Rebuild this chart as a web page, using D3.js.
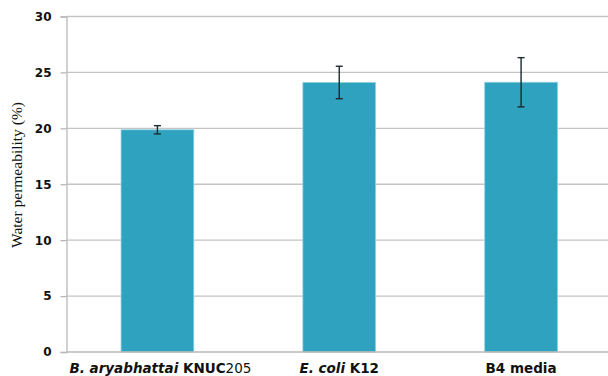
<!DOCTYPE html>
<html>
<head>
<meta charset="utf-8">
<script src="https://cdn.jsdelivr.net/npm/d3@7"></script>
<style>
  html, body { margin: 0; padding: 0; background: #fff; }
  svg { display: block; }
</style>
</head>
<body>
<svg id="chart" width="608" height="376"></svg>
<script>
// Water permeability by culture condition, mean ± error
const categories = ["B. aryabhattai KNUC205", "E. coli K12", "B4 media"];
const labelParts = [
  [{ t: "B. aryabhattai ", italic: true, bold: true }, { t: "KNUC", bold: true }, { t: "205", bold: false }],
  [{ t: "E. coli ", italic: true, bold: true }, { t: "K12", bold: true }],
  [{ t: "B4 media", bold: true }]
];
const means = [19.87, 24.1, 24.12];
const errors = [0.37, 1.45, 2.2];
const yTicks = [0, 5, 10, 15, 20, 25, 30];
const yTitle = "Water permeability (%)";

const svg = d3.select("#chart");
const margin = { left: 66.5, right: -4, top: 16.5, bottom: 24 };
const W = 608, H = 376;

const x = d3.scaleBand()
  .domain(categories)
  .range([margin.left, W - margin.right])
  .paddingInner(0.6)
  .paddingOuter(0.3);

const y = d3.scaleLinear().domain([0, 30]).range([H - margin.bottom, margin.top]);

// horizontal gridlines
svg.append("g")
  .selectAll("line")
  .data(yTicks.filter(d => d > 0))
  .join("line")
  .attr("x1", margin.left)
  .attr("x2", W)
  .attr("y1", d => y(d))
  .attr("y2", d => y(d))
  .attr("stroke", "#c4c4c4")
  .attr("stroke-width", 1.3);

// y axis
const yAxis = d3.axisLeft(y).tickValues(yTicks).tickSize(6).tickPadding(9);
const gy = svg.append("g").attr("transform", `translate(${margin.left},0)`).call(yAxis);
gy.select(".domain").attr("stroke", "#b8b8b8").attr("stroke-width", 1.3);
gy.selectAll(".tick line").attr("stroke", "#b8b8b8").attr("stroke-width", 1.3);
gy.selectAll(".tick text")
  .attr("fill", "#111")
  .style("font-family", "'DejaVu Sans', sans-serif")
  .style("font-weight", "bold")
  .style("font-size", "12px");

// bars
svg.append("g")
  .selectAll("rect")
  .data(categories)
  .join("rect")
  .attr("x", d => x(d))
  .attr("y", (d, i) => y(means[i]))
  .attr("width", x.bandwidth())
  .attr("height", (d, i) => y(0) - y(means[i]))
  .attr("fill", "#2ea2be")
  .attr("stroke", "#8fd0e0")
  .attr("stroke-width", 0.8);

// x axis baseline
svg.append("line")
  .attr("x1", margin.left)
  .attr("x2", W)
  .attr("y1", y(0))
  .attr("y2", y(0))
  .attr("stroke", "#b8b8b8")
  .attr("stroke-width", 1.3);

// error bars
const eb = svg.append("g").attr("stroke", "#1c2a30").attr("stroke-width", 1.4);
categories.forEach((c, i) => {
  const cx = x(c) + x.bandwidth() / 2;
  const top = y(means[i] + errors[i]);
  const bot = y(means[i] - errors[i]);
  eb.append("line").attr("x1", cx).attr("x2", cx).attr("y1", top).attr("y2", bot);
  eb.append("line").attr("x1", cx - 3.5).attr("x2", cx + 3.5).attr("y1", top).attr("y2", top);
  eb.append("line").attr("x1", cx - 3.5).attr("x2", cx + 3.5).attr("y1", bot).attr("y2", bot);
});

// category labels
const lab = svg.append("g")
  .style("font-family", "'DejaVu Sans', sans-serif")
  .style("font-size", "13.5px")
  .attr("fill", "#111");
categories.forEach((c, i) => {
  const t = lab.append("text")
    .attr("x", x(c) + x.bandwidth() / 2 + (i === 0 ? 3 : 0))
    .attr("y", 373)
    .attr("text-anchor", "middle");
  labelParts[i].forEach(p => {
    t.append("tspan")
      .text(p.t)
      .style("font-style", p.italic ? "italic" : "normal")
      .style("font-weight", p.bold ? "bold" : "normal");
  });
});

// y axis title
svg.append("text")
  .attr("transform", `translate(22,175) rotate(-90)`)
  .attr("text-anchor", "middle")
  .style("font-family", "'Liberation Serif', 'Times New Roman', serif")
  .style("font-size", "15.5px")
  .attr("fill", "#111")
  .text(yTitle);
</script>
</body>
</html>
